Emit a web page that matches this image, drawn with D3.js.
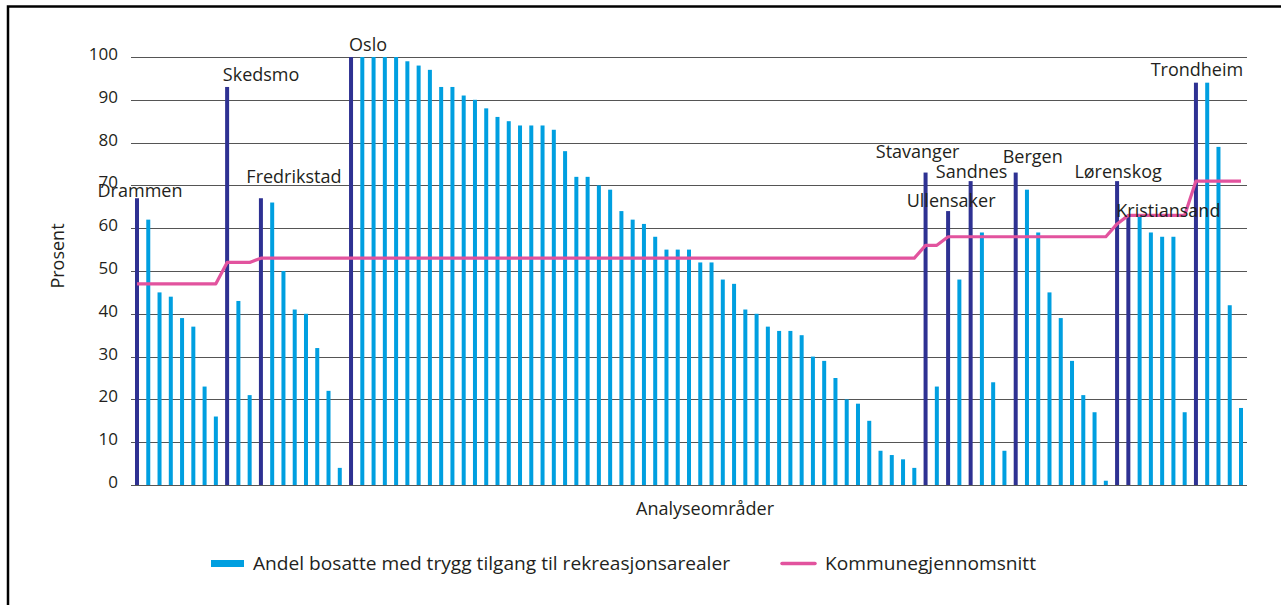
<!DOCTYPE html>
<html>
<head>
<meta charset="utf-8">
<script src="https://cdn.jsdelivr.net/npm/d3@7"></script>
<style>
  body { margin: 0; background: #fff; }
  svg text { font-family: "Open Sans", "Noto Sans", sans-serif; fill: #231f20; }
</style>
</head>
<body>
<div id="chart"></div>
<script>
// share of residents with safe access to recreation areas, per analysis area
const values = [
    67, 62, 45, 44, 39, 37, 23, 16, 93, 43, 21, 67, 66, 50, 41, 40, 32, 22, 4,
    100, 100, 100, 100, 100, 99, 98, 97, 93, 93, 91, 90, 88, 86, 85, 84, 84, 84, 83, 78, 72, 72, 70,
    69, 64, 62, 61, 58, 55, 55, 55, 52, 52, 48, 47, 41, 40, 37, 36, 36, 35, 30, 29, 25, 20, 19, 15, 8, 7, 6, 4,
    73, 23, 64, 48, 71, 59, 24, 8, 73, 69, 59, 45, 39, 29, 21, 17, 1, 71, 63, 63, 59, 58, 58, 17, 94, 94, 79, 42, 18
];

// municipal average, one value per analysis area
const averages = [
    47, 47, 47, 47, 47, 47, 47, 47, 52, 52, 52, 53, 53, 53, 53, 53, 53, 53, 53,
    53, 53, 53, 53, 53, 53, 53, 53, 53, 53, 53, 53, 53, 53, 53, 53, 53, 53, 53, 53, 53, 53, 53,
    53, 53, 53, 53, 53, 53, 53, 53, 53, 53, 53, 53, 53, 53, 53, 53, 53, 53, 53, 53, 53, 53, 53, 53, 53, 53, 53, 53,
    56, 56, 58, 58, 58, 58, 58, 58, 58, 58, 58, 58, 58, 58, 58, 58, 58, 61, 63, 63, 63, 63, 63, 63, 71, 71, 71, 71, 71
];

// municipality name and the index of its (first / named) area
const municipalities = ["Drammen", "Skedsmo", "Fredrikstad", "Oslo", "Stavanger", "Ullensaker",
    "Sandnes", "Bergen", "Lørenskog", "Kristiansand", "Trondheim"];
const municipalityIndex = [0, 8, 11, 19, 70, 72, 74, 78, 87, 88, 94];

const yTicks = [0, 10, 20, 30, 40, 50, 60, 70, 80, 90, 100];

const legendLabels = ["Andel bosatte med trygg tilgang til rekreasjonsarealer", "Kommunegjennomsnitt"];

// label nudges [dx, dy] relative to bar top
const labelNudge = {
    "Drammen": [3, -1], "Skedsmo": [34, -6], "Fredrikstad": [33, -15], "Oslo": [17, -6],
    "Stavanger": [-8, -15], "Ullensaker": [3, -4], "Sandnes": [1, -3], "Bergen": [17, -10],
    "Lørenskog": [1, -3], "Kristiansand": [40, 2], "Trondheim": [1, -7]
};

const width = 1281, height = 605;
const lightBlue = "#009fe0", darkBlue = "#2e3192", pink = "#e2539e";

const svg = d3.select("#chart").append("svg")
    .attr("width", width)
    .attr("height", height);

// frame (top + left only)
svg.append("path")
    .attr("d", `M8,${height} V6.5 H${width}`)
    .attr("fill", "none")
    .attr("stroke", "#000")
    .attr("stroke-width", 2.5);

const x = d3.scalePoint()
    .domain(d3.range(values.length))
    .range([137, 1241]);

const y = d3.scaleLinear()
    .domain([0, 100])
    .range([485, 57]);

// gridlines
svg.append("g")
    .selectAll("line")
    .data(yTicks)
    .enter()
    .append("line")
    .attr("x1", x.range()[0] - 6)
    .attr("x2", x.range()[1] + 6)
    .attr("y1", d => Math.round(y(d)) + 0.5)
    .attr("y2", d => Math.round(y(d)) + 0.5)
    .attr("stroke", "#555")
    .attr("stroke-width", 1.2);

// y tick labels
svg.append("g")
    .selectAll("text")
    .data(yTicks)
    .enter()
    .append("text")
    .attr("x", 118)
    .attr("y", d => y(d) - 3)
    .attr("dy", "0.35em")
    .attr("text-anchor", "end")
    .style("font-size", "17px")
    .text(d => d);

// bars
const barWidth = 4;
svg.append("g")
    .selectAll("rect")
    .data(values)
    .enter()
    .append("rect")
    .attr("x", (d, i) => x(i) - barWidth / 2)
    .attr("y", d => y(d))
    .attr("width", barWidth)
    .attr("height", d => y(0) - y(d))
    .attr("fill", (d, i) => municipalityIndex.includes(i) ? darkBlue : lightBlue);

// average line
const line = d3.line()
    .x((d, i) => x(i))
    .y(d => y(d));

svg.append("path")
    .datum(averages)
    .attr("d", line)
    .attr("fill", "none")
    .attr("stroke", pink)
    .attr("stroke-width", 3.2)
    .attr("stroke-linejoin", "round");

// municipality labels
svg.append("g")
    .selectAll("text")
    .data(municipalities)
    .enter()
    .append("text")
    .attr("x", (d, i) => x(municipalityIndex[i]) + labelNudge[d][0])
    .attr("y", (d, i) => y(values[municipalityIndex[i]]) + labelNudge[d][1])
    .attr("text-anchor", "middle")
    .style("font-size", "18px")
    .text(d => d);

// axis titles
svg.append("text")
    .attr("transform", "translate(64,256) rotate(-90)")
    .attr("text-anchor", "middle")
    .style("font-size", "18px")
    .text("Prosent");

svg.append("text")
    .attr("x", 705)
    .attr("y", 515)
    .attr("text-anchor", "middle")
    .style("font-size", "18px")
    .text("Analyseområder");

// legend
const legend = svg.append("g");

legend.append("rect")
    .attr("x", 211)
    .attr("y", 560)
    .attr("width", 33)
    .attr("height", 7)
    .attr("fill", lightBlue);

legend.append("text")
    .attr("x", 253)
    .attr("y", 570)
    .attr("textLength", 477)
    .attr("lengthAdjust", "spacingAndGlyphs")
    .style("font-size", "18.5px")
    .text(legendLabels[0]);

legend.append("line")
    .attr("x1", 782)
    .attr("x2", 815)
    .attr("y1", 563.5)
    .attr("y2", 563.5)
    .attr("stroke", pink)
    .attr("stroke-width", 3.5)
    .attr("stroke-linecap", "round");

legend.append("text")
    .attr("x", 825)
    .attr("y", 570)
    .attr("textLength", 211)
    .attr("lengthAdjust", "spacingAndGlyphs")
    .style("font-size", "18.5px")
    .text(legendLabels[1]);
</script>
</body>
</html>
